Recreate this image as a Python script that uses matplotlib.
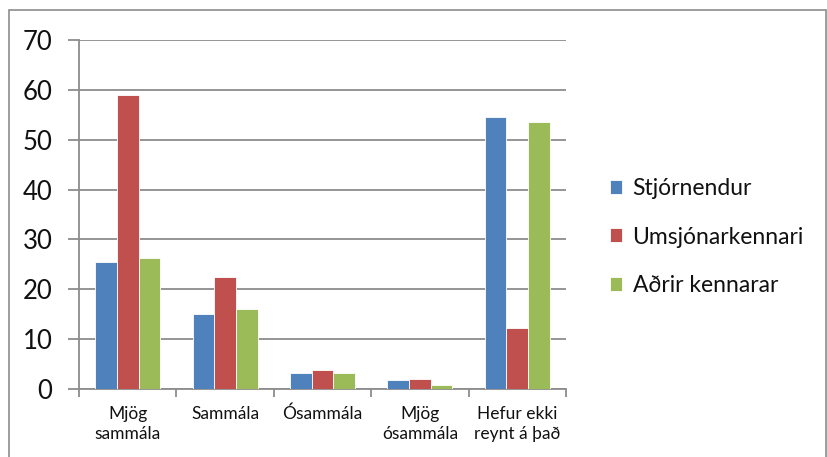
import matplotlib
matplotlib.use("Agg")
import matplotlib.pyplot as plt
import numpy as np
from matplotlib.patches import Rectangle

categories = ["Mjög\nsammála", "Sammála", "Ósammála", "Mjög\nósammála", "Hefur ekki\nreynt á það"]
series_names = ["Stjórnendur", "Umsjónarkennari", "Aðrir kennarar"]
stjornendur = [25.4, 15.0, 3.2, 1.9, 54.5]
umsjonarkennari = [59.0, 22.4, 3.9, 2.1, 12.3]
adrir_kennarar = [26.2, 16.1, 3.2, 0.9, 53.5]
colors = ["#4F81BD", "#C0504D", "#9BBB59"]
yticks = [0, 10, 20, 30, 40, 50, 60, 70]

plt.rcParams['font.family'] = ['Lato', 'DejaVu Sans']

W, H = 828, 457
fig = plt.figure(figsize=(W / 100, H / 100), dpi=100)
# outer border
fig.patches.append(Rectangle((9 / W, -0.1), (826 - 9) / W, 1.1 - 10 / H, transform=fig.transFigure,
                             fill=False, edgecolor="#8C8C8C", linewidth=1.2))

left, right, top, bottom = 79, 566, 40, 389
ax = fig.add_axes([left / W, 1 - bottom / H, (right - left) / W, (bottom - top) / H])

x = np.arange(len(categories))
bw = 0.222
data = [stjornendur, umsjonarkennari, adrir_kennarar]
for i, (vals, c, name) in enumerate(zip(data, colors, series_names)):
    ax.bar(x + (i - 1) * bw, vals, width=bw, color=c, edgecolor="white", linewidth=0.6, label=name, zorder=3)

ax.set_xlim(-0.5, len(categories) - 0.5)
ax.set_ylim(0, 70)
ax.set_yticks(yticks)
ax.set_yticklabels([str(v) for v in yticks], fontsize=18.5, color="#111111")
ax.yaxis.grid(True, color="#8C8C8C", linewidth=1.3, zorder=0)
ax.set_axisbelow(True)

ax.set_xticks(x)
ax.set_xticklabels(categories, fontsize=12.5, linespacing=1.35, color="#111111")
ax.tick_params(axis='x', length=0, pad=12)
ax.set_xticks(np.arange(-0.5, len(categories) + 0.5, 1), minor=True)
ax.tick_params(axis='x', which='minor', length=6, width=1.3, color="#8C8C8C", direction='out')
ax.tick_params(axis='y', length=8, width=1.3, color="#8C8C8C", direction='out', pad=11)

for s in ["top", "right"]:
    ax.spines[s].set_visible(False)
for s in ["left", "bottom"]:
    ax.spines[s].set_color("#8C8C8C")
    ax.spines[s].set_linewidth(1.3)

leg = fig.legend(loc="center left", bbox_to_anchor=(589 / W, 1 - 237 / H), frameon=False,
                 fontsize=16.5, handlelength=0.55, handleheight=0.55, handletextpad=0.45, labelspacing=1.2)
for t in leg.get_texts():
    t.set_color("#111111")

fig.savefig("out.png", dpi=100)
